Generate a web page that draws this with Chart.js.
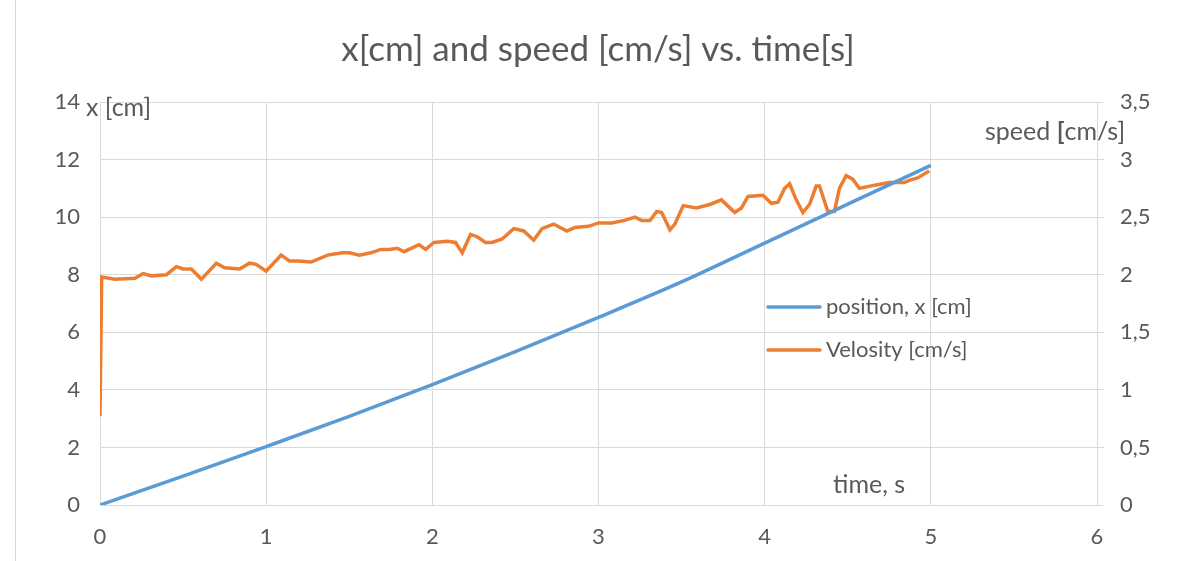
<!DOCTYPE html>
<html>
<head>
<meta charset="utf-8">
<script src="https://cdn.jsdelivr.net/npm/chart.js@4"></script>
<style>
html,body{margin:0;padding:0;background:#fff;}
canvas{display:block;}
</style>
</head>
<body>
<canvas id="c" width="1184" height="561"></canvas>
<script>
// ---- data ----
const chartTitle = "x[cm] and speed [cm/s] vs. time[s]";
const posTime = [0, 0.5, 1, 1.5, 2, 2.5, 3, 3.5, 4, 4.5, 5];
const posValues = [0, 1.0, 2.03, 3.08, 4.18, 5.33, 6.52, 7.75, 9.1, 10.45, 11.8];
const velTime = [0, 0.01, 0.09, 0.21, 0.26, 0.31, 0.40, 0.46, 0.50, 0.55, 0.61, 0.70, 0.75, 0.84, 0.90, 0.94, 1.00, 1.09, 1.14, 1.19, 1.27, 1.37, 1.41, 1.46, 1.50, 1.56, 1.63, 1.69, 1.74, 1.79, 1.83, 1.92, 1.96, 2.01, 2.09, 2.14, 2.18, 2.23, 2.27, 2.32, 2.36, 2.42, 2.49, 2.55, 2.61, 2.66, 2.73, 2.81, 2.86, 2.94, 3.00, 3.08, 3.15, 3.22, 3.26, 3.31, 3.35, 3.38, 3.43, 3.46, 3.51, 3.59, 3.67, 3.74, 3.82, 3.86, 3.90, 3.99, 4.04, 4.08, 4.12, 4.15, 4.19, 4.23, 4.27, 4.31, 4.33, 4.38, 4.42, 4.45, 4.49, 4.53, 4.57, 4.67, 4.75, 4.84, 4.87, 4.92, 4.99];
const velValues = [0.77, 1.98, 1.96, 1.97, 2.01, 1.99, 2.00, 2.07, 2.05, 2.05, 1.96, 2.10, 2.06, 2.05, 2.10, 2.09, 2.03, 2.17, 2.12, 2.12, 2.11, 2.17, 2.18, 2.19, 2.19, 2.17, 2.19, 2.22, 2.22, 2.23, 2.20, 2.26, 2.22, 2.28, 2.29, 2.28, 2.19, 2.35, 2.33, 2.28, 2.28, 2.31, 2.40, 2.38, 2.30, 2.40, 2.44, 2.38, 2.41, 2.42, 2.45, 2.45, 2.47, 2.50, 2.47, 2.47, 2.55, 2.54, 2.39, 2.44, 2.60, 2.58, 2.61, 2.65, 2.54, 2.58, 2.68, 2.69, 2.62, 2.63, 2.75, 2.79, 2.65, 2.54, 2.61, 2.77, 2.77, 2.55, 2.55, 2.75, 2.86, 2.83, 2.75, 2.78, 2.80, 2.80, 2.82, 2.84, 2.90];
const seriesNames = ["position, x [cm]", "Velosity [cm/s]"];
const xAxisLabel = "time, s";
const yAxisLabel = "x [cm]";
const y2AxisLabel = ["speed ", "[", "cm/s]"];

const TXT = '#595959';
const GRID = '#d9d9d9';
const FONT = 'Lato, "Open Sans", sans-serif';
const BLUE = '#5B9BD5';
const ORANGE = '#ED7D31';
const FS = 22;
const LFS = 25;

const toPts = (xs, ys) => xs.map((x, i) => ({x: x, y: ys[i]}));

const decorations = {
  id: 'decorations',
  afterDraw(chart) {
    const ctx = chart.ctx;
    ctx.save();
    // frame line on left
    ctx.strokeStyle = GRID;
    ctx.lineWidth = 1;
    ctx.beginPath();
    ctx.moveTo(15.5, 0); ctx.lineTo(15.5, 561);
    ctx.stroke();
    ctx.fillStyle = TXT;
    ctx.textBaseline = 'middle';
    // title
    ctx.font = '35px ' + FONT;
    ctx.textAlign = 'center';
    ctx.fillText(chartTitle, 598, 50);
    // axis labels
    ctx.font = LFS + 'px ' + FONT;
    ctx.textAlign = 'left';
    ctx.fillText(yAxisLabel, 86, 108);
    ctx.fillText(xAxisLabel, 833, 485);
    let x = 985;
    ctx.fillText(y2AxisLabel[0], x, 132);
    x += ctx.measureText(y2AxisLabel[0]).width;
    ctx.font = 'bold ' + LFS + 'px ' + FONT;
    ctx.fillText(y2AxisLabel[1], x, 132);
    x += ctx.measureText(y2AxisLabel[1]).width;
    ctx.font = LFS + 'px ' + FONT;
    ctx.fillText(y2AxisLabel[2], x, 132);
    // legend
    const items = [[BLUE, 307], [ORANGE, 350]];
    items.forEach((it, i) => {
      ctx.strokeStyle = it[0];
      ctx.lineWidth = 3.5;
      ctx.lineCap = 'round';
      ctx.beginPath();
      ctx.moveTo(768, it[1]); ctx.lineTo(820, it[1]);
      ctx.stroke();
      ctx.fillStyle = TXT;
      ctx.font = FS + 'px ' + FONT;
      ctx.fillText(chart.data.datasets[i].label, 826, it[1]);
    });
    ctx.restore();
  }
};

new Chart(document.getElementById('c'), {
  type: 'line',
  data: {
    datasets: [
      {label: seriesNames[0], data: toPts(posTime, posValues), yAxisID: 'y', borderColor: BLUE, borderWidth: 3.5, pointRadius: 0, tension: 0.4, cubicInterpolationMode: 'monotone', fill: false},
      {label: seriesNames[1], data: toPts(velTime, velValues), yAxisID: 'y2', borderColor: ORANGE, borderWidth: 3.5, pointRadius: 0, tension: 0, fill: false}
    ]
  },
  options: {
    responsive: false,
    devicePixelRatio: 1,
    animation: false,
    layout: {padding: {top: 102, left: 0, right: 0, bottom: 0}},
    plugins: {legend: {display: false}, tooltip: {enabled: false}, title: {display: false}},
    scales: {
      x: {
        type: 'linear', min: 0, max: 6,
        ticks: {stepSize: 1, color: TXT, font: {family: FONT, size: FS}, padding: 19},
        grid: {color: GRID, drawTicks: false},
        border: {display: false},
        afterFit(s) { s.height = 56; }
      },
      y: {
        position: 'left', min: 0, max: 14,
        ticks: {stepSize: 2, color: TXT, font: {family: FONT, size: FS}, padding: 20},
        grid: {color: GRID, drawTicks: false},
        border: {display: false},
        afterFit(s) { s.width = 100; }
      },
      y2: {
        position: 'right', min: 0, max: 3.5,
        ticks: {stepSize: 0.5, color: TXT, font: {family: FONT, size: FS}, padding: 16,
          callback: v => String(v).replace('.', ',')},
        grid: {color: GRID, drawOnChartArea: false, drawTicks: true, tickLength: 7},
        border: {display: true, color: GRID},
        afterFit(s) { s.width = 87; }
      }
    }
  },
  plugins: [decorations]
});
</script>
</body>
</html>
